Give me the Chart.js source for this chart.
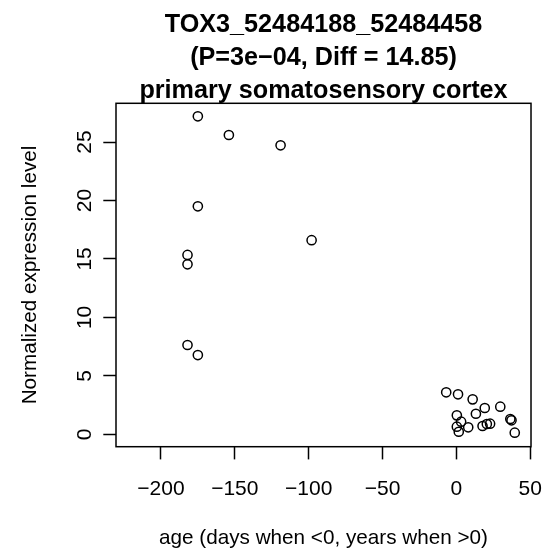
<!DOCTYPE html>
<html>
<head>
<meta charset="utf-8">
<script src="https://cdn.jsdelivr.net/npm/chart.js@4.4.0/dist/chart.umd.min.js"></script>
<style>
  html, body { margin: 0; padding: 0; background: #fff; }
  canvas { display: block; }
</style>
</head>
<body>
<canvas id="myChart" width="559" height="553"></canvas>
<script>
const titleLines = ['TOX3_52484188_52484458', '(P=3e\u221204, Diff = 14.85)', 'primary somatosensory cortex'];
const xLabel = 'age (days when <0, years when >0)';
const yLabel = 'Normalized expression level';

// one entry per sample: age and normalized expression
const ageValues = [
    -175, -154, -119, -175, -98, -182, -182, -182, -175,
    -6.9, 1.1, 11.0, 19.2, 29.7, 13.2, 0.3, 36.5, 37.3,
    3.2, 0.3, 8.0, 17.7, 20.6, 22.8, 1.6, 39.5
];
const exprValues = [
    27.2, 25.6, 24.72, 19.5, 16.6, 15.34, 14.54, 7.64, 6.78,
    3.59, 3.42, 2.99, 2.25, 2.36, 1.76, 1.62, 1.31, 1.2,
    1.08, 0.65, 0.6, 0.71, 0.88, 0.91, 0.22, 0.14
];
const xTicks = [-200, -150, -100, -50, 0, 50];
const yTicks = [0, 5, 10, 15, 20, 25];

const family = '"Liberation Sans", Arial, Helvetica, sans-serif';
const ctx = document.getElementById('myChart').getContext('2d');

const boxPlugin = {
    id: 'box',
    afterDraw(chart) {
        const a = chart.chartArea;
        const c = chart.ctx;
        c.save();
        c.strokeStyle = '#000';
        c.lineWidth = 1.5;
        c.strokeRect(a.left, a.top, a.right - a.left, a.bottom - a.top);
        c.restore();
    }
};

const tickGrid = {
    display: true,
    drawOnChartArea: false,
    drawTicks: true,
    tickLength: 12.7,
    tickWidth: 1.5,
    tickColor: '#000'
};

const myChart = new Chart(ctx, {
    type: 'scatter',
    data: {
        datasets: [{
            data: ageValues.map((a, i) => ({x: a, y: exprValues[i]})),
            pointStyle: 'circle',
            pointRadius: 4.6,
            pointBorderWidth: 1.5,
            borderColor: '#000',
            backgroundColor: 'rgba(0, 0, 0, 0)'
        }]
    },
    options: {
        responsive: false,
        animation: false,
        devicePixelRatio: 1,
        events: [],
        layout: {
            padding: {left: 0, right: 23.3, top: 0, bottom: 0}
        },
        scales: {
            x: {
                type: 'linear',
                position: 'bottom',
                min: -230.4,
                max: 50.5,
                afterBuildTicks: s => { s.ticks = xTicks.map(v => ({value: v})); },
                afterFit: s => { s.height = 106.3; },
                grid: tickGrid,
                border: {display: false},
                ticks: {
                    color: '#000',
                    font: {size: 21, family: family},
                    minRotation: 0,
                    maxRotation: 0,
                    autoSkip: false,
                    padding: 17,
                    callback: v => String(v).replace('-', '\u2212')
                },
                title: {
                    display: true,
                    text: xLabel,
                    color: '#000',
                    font: {size: 20.7, family: family},
                    padding: {top: 0, bottom: 2.4}
                }
            },
            y: {
                type: 'linear',
                min: -1.06,
                max: 28.31,
                afterBuildTicks: s => { s.ticks = yTicks.map(v => ({value: v})); },
                afterFit: s => { s.width = 116; },
                grid: tickGrid,
                border: {display: false},
                ticks: {
                    color: '#000',
                    font: {size: 21, family: family},
                    minRotation: 90,
                    maxRotation: 90,
                    crossAlign: 'center',
                    autoSkip: false,
                    padding: 6,
                    callback: v => String(v)
                },
                title: {
                    display: true,
                    text: yLabel,
                    color: '#000',
                    font: {size: 20.7, family: family},
                    padding: {top: 17.6, bottom: 0}
                }
            }
        },
        plugins: {
            legend: {display: false},
            tooltip: {enabled: false},
            title: {
                display: true,
                fullSize: false,
                text: titleLines,
                color: '#000',
                font: {size: 25.2, weight: 'bold', family: family, lineHeight: '33px'},
                padding: {top: 9, bottom: -4.7}
            }
        }
    },
    plugins: [boxPlugin]
});
</script>
</body>
</html>
